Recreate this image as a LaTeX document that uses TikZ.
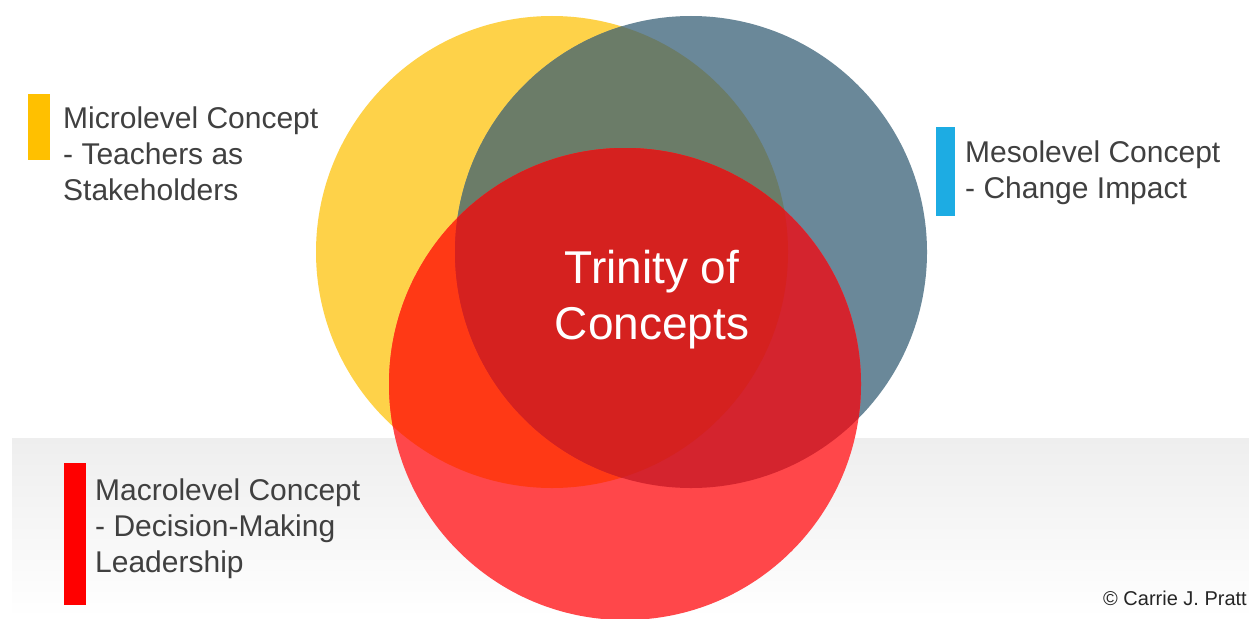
\documentclass[tikz,border=0pt]{standalone}
\usepackage{fontspec}
\setmainfont{Liberation Sans}
\definecolor{cYel}{RGB}{254,210,73}
\definecolor{cBlu}{RGB}{106,136,153}
\definecolor{cYB}{RGB}{107,124,104}
\definecolor{cRed}{RGB}{255,71,74}
\definecolor{cRY}{RGB}{255,57,21}
\definecolor{cRB}{RGB}{212,36,46}
\definecolor{cRYB}{RGB}{213,33,31}
\definecolor{barYel}{RGB}{255,192,0}
\definecolor{barBlu}{RGB}{29,172,227}
\definecolor{barRed}{RGB}{255,0,0}
\definecolor{txt}{RGB}{64,64,64}
\definecolor{bandTop}{RGB}{238,238,238}
\tikzset{
  label/.style={anchor=base west, align=left, inner sep=0pt, text=txt,
    font=\fontsize{30pt}{36pt}\selectfont},
  bar/.style={inner sep=0pt, outer sep=0pt}
}
\begin{document}
\begin{tikzpicture}[x=1pt,y=-1pt]
\useasboundingbox (0,0) rectangle (1249,618);
\fill[white] (0,0) rectangle (1249,618);
\shade[top color=bandTop, bottom color=white] (12,438) rectangle (1249,618);
\begin{scope}
\clip (0,0) rectangle (1249,618);
\def\Ycirc{(552,252) circle[radius=236]}
\def\Bcirc{(691,252) circle[radius=236]}
\def\Rcirc{(625,384) circle[radius=236]}
\fill[cYel] \Ycirc;
\fill[cBlu] \Bcirc;
\begin{scope}\clip \Ycirc; \fill[cYB] \Bcirc;\end{scope}
\fill[cRed] \Rcirc;
\begin{scope}\clip \Rcirc; \fill[cRY] \Ycirc;\end{scope}
\begin{scope}\clip \Rcirc; \fill[cRB] \Bcirc;\end{scope}
\begin{scope}\clip \Rcirc; \clip \Ycirc; \fill[cRYB] \Bcirc;\end{scope}
\end{scope}
% bars
\fill[barYel] (28,94) rectangle (50,160);
\fill[barBlu] (936,127) rectangle (955,216);
\fill[barRed] (64,463) rectangle (86,605);
% labels (base anchor = baseline of last line)
\node[label] (micro) at (63,200) {Microlevel Concept\\- Teachers as\\Stakeholders};
\node[label] (meso) at (965,198) {Mesolevel Concept\\- Change Impact};
\node[label] (macro) at (95,572) {Macrolevel Concept\\- Decision-Making\\Leadership};
\node[anchor=base, align=center, inner sep=0pt, text=white,
  font=\fontsize{46pt}{56pt}\selectfont] (trinity) at (652,339) {Trinity of\\Concepts};
\node[anchor=base east, inner sep=0pt, text=black!85,
  font=\fontsize{20pt}{24pt}\selectfont] (copy) at (1247,605) {© Carrie J. Pratt};
\end{tikzpicture}
\end{document}
